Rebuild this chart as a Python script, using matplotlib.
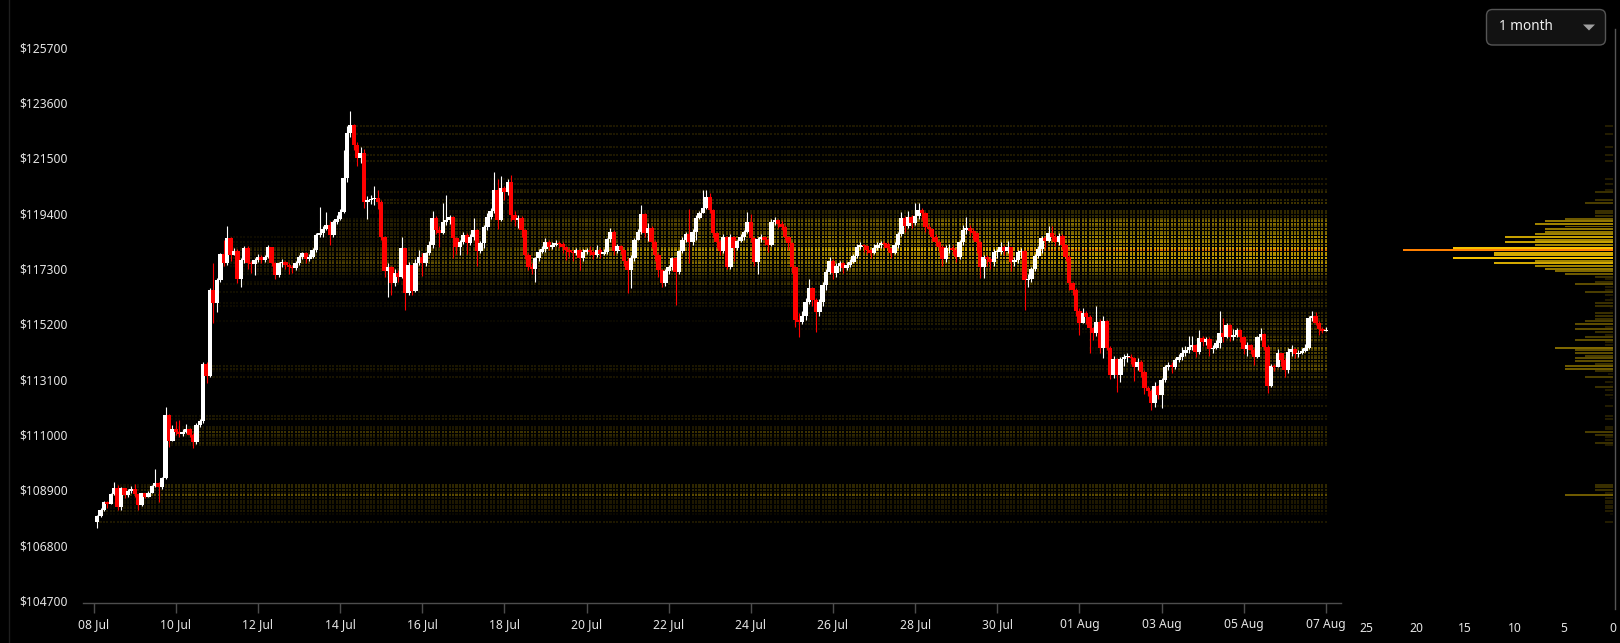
import numpy as np
import matplotlib
matplotlib.use("Agg")
import matplotlib.pyplot as plt
import matplotlib.dates as mdates
from matplotlib.collections import LineCollection
from matplotlib.colors import LinearSegmentedColormap
from matplotlib.patches import FancyBboxPatch, Polygon
from datetime import datetime

plt.rcParams['font.family'] = ['Noto Sans', 'DejaVu Sans']

# 2h candles, BTC 08 Jul 02:00 -> 07 Aug 00:00 (open of each = previous close)
first_open = 107700
closes = [
    107900, 108140, 108450, 108380, 108740, 108990, 108250, 108960, 108710, 108870,
    108930, 108740, 108320, 108770, 108650, 108800, 109050, 109160, 109000, 109340,
    111750, 110770, 111200, 111100, 111010, 111110, 111200, 110990, 110730, 111370,
    111500, 113700, 113230, 116490, 115980, 116870, 117860, 117500, 118450, 117820,
    117980, 116910, 117630, 118100, 117500, 117480, 117630, 117760, 117630, 117730,
    118130, 117500, 117060, 117500, 117560, 117450, 117380, 117320, 117500, 117750,
    117880, 117660, 117750, 118000, 118580, 118640, 118800, 118960, 118580, 119080,
    119200, 119460, 120730, 122440, 122750, 121990, 121490, 121680, 119840, 119900,
    119950, 119970, 119840, 118510, 117220, 117380, 116770, 117120, 117000, 118070,
    116360, 117440, 116450, 117530, 117730, 117500, 117880, 118200, 119210, 118770,
    118640, 119080, 119150, 119250, 118450, 118110, 118300, 118580, 118260, 118500,
    118770, 117980, 118260, 118890, 119270, 119500, 120290, 119150, 120350, 120200,
    120580, 119340, 119150, 119210, 118770, 117820, 117380, 117300, 117690, 117950,
    118030, 118320, 118130, 118200, 118290, 118250, 118130, 118010, 117950, 117900,
    118010, 117690, 117950, 118010, 117950, 117820, 118010, 117860, 117950, 118410,
    118700, 117980, 118160, 118000, 117600, 117250, 117700, 118390, 118700, 119370,
    118670, 118840, 118320, 117820, 117250, 116740, 117220, 117380, 117690, 117190,
    117970, 118390, 118600, 118320, 118700, 119210, 119400, 119600, 120030, 119530,
    118640, 118320, 117980, 118510, 117350, 118510, 118070, 118350, 118500, 118700,
    119080, 118450, 117570, 118410, 118510, 118400, 118200, 119080, 119150, 119000,
    118890, 118510, 118260, 117350, 115350, 115290, 115500, 116050, 116550, 116110,
    115670, 116050, 116680, 117190, 117590, 117150, 117400, 117500, 117310, 117450,
    117570, 117780, 118130, 118200, 118150, 118010, 117880, 118100, 118200, 118290,
    118250, 118070, 117910, 118200, 118610, 119210, 118920, 119270, 119020, 119300,
    119530, 119400, 118890, 118790, 118510, 118320, 118130, 117650, 118070, 118100,
    118010, 117730, 118300, 118770, 118830, 118740, 118640, 118300, 117350, 117730,
    117650, 117570, 117940, 117940, 118130, 117980, 118130, 117570, 117630, 117940,
    117970, 116870, 116900, 117270, 117780, 118030, 118450, 118360, 118640, 118510,
    118320, 118540, 118200, 117750, 116740, 116490, 115700, 115250, 115600, 115480,
    115040, 114870, 115290, 114300, 115300, 114300, 113260, 113860, 113260, 113860,
    113950, 113960, 113900, 113580, 113770, 113390, 112760, 112670, 112190, 112850,
    112510, 113070, 113580, 113640, 113580, 113830, 113930, 114110, 114200, 114310,
    114400, 114150, 114660, 114530, 114630, 114240, 114300, 114490, 114870, 114720,
    115160, 114720, 114800, 114970, 114720, 114240, 114400, 114200, 113930, 114690,
    114820, 114340, 112850, 113600, 113580, 114090, 113830, 113450, 114150, 114240,
    114060, 114090, 114190, 114300, 115420, 115500, 115240, 115000, 114950, 114970,
]
highs = [
    107950, 108200, 108500, 108480, 108780, 109200, 109100, 109000, 108980, 108920,
    109050, 109130, 108760, 108800, 108800, 108850, 109100, 109700, 109200, 109400,
    112060, 111800, 111350, 111500, 111550, 111200, 111400, 111250, 111050, 111450,
    111600, 113750, 113750, 116550, 117500, 116950, 117900, 118390, 118900, 118500,
    118100, 118050, 117700, 118150, 118150, 117600, 117700, 117850, 117800, 117800,
    118200, 118100, 117550, 117550, 117650, 117600, 117500, 117450, 117600, 117800,
    117950, 117950, 117850, 118100, 118650, 119650, 118900, 119440, 119100, 119150,
    119350, 119550, 121800, 122700, 123280, 122800, 122120, 121900, 121850, 120050,
    120100, 120440, 120290, 119900, 118550, 117500, 117400, 117300, 117250, 118490,
    118100, 117550, 117450, 117650, 118000, 117900, 117950, 118350, 119500, 119300,
    118900, 119800, 120100, 119350, 119300, 118500, 118400, 118700, 118650, 118600,
    119210, 118800, 118350, 118950, 119400, 119600, 120950, 120690, 120820, 120450,
    120700, 120850, 119500, 119350, 119300, 118800, 117900, 117500, 117750, 118050,
    118150, 118450, 118400, 118300, 118400, 118350, 118300, 118150, 118100, 118000,
    118100, 118050, 118050, 118100, 118150, 118000, 118200, 118100, 118050, 118450,
    118850, 118750, 118250, 118200, 118050, 117700, 117800, 118450, 118800, 119720,
    119400, 119050, 118900, 118400, 117900, 117300, 117300, 117450, 117750, 117750,
    118000, 118510, 118700, 119550, 118800, 119350, 119500, 120290, 120300, 120160,
    119550, 118700, 118400, 118600, 118550, 118600, 118550, 118400, 118600, 118750,
    119460, 119370, 118500, 118500, 118600, 118550, 118450, 119200, 119250, 119200,
    119100, 118950, 118550, 118300, 117400, 115600, 115700, 116200, 116900, 116600,
    116200, 116150, 116800, 117300, 117760, 117650, 117500, 117600, 117550, 117550,
    117650, 117850, 118250, 118300, 118250, 118200, 118050, 118250, 118300, 118350,
    118350, 118300, 118100, 118300, 118700, 119450, 119300, 119500, 119350, 119800,
    119800, 119600, 119450, 119000, 118850, 118600, 118400, 118200, 118200, 118250,
    118200, 118100, 118400, 118950, 119270, 118950, 118850, 118700, 118350, 117800,
    117800, 117750, 118050, 118050, 118300, 118200, 118350, 118100, 117750, 118000,
    118100, 118000, 117100, 117350, 117850, 118150, 118550, 118550, 118900, 118900,
    118600, 118650, 118600, 118250, 117800, 116800, 116550, 115800, 115800, 115700,
    115550, 115100, 115900, 115400, 115500, 115350, 114350, 114000, 113900, 113950,
    114050, 114100, 114050, 113950, 113900, 113850, 113450, 112850, 112750, 113000,
    112900, 113150, 113650, 113750, 113750, 113900, 114050, 114340, 114350, 114740,
    114750, 114450, 114970, 114750, 114700, 114700, 114400, 114600, 115690, 115440,
    115250, 115200, 115000, 115050, 115000, 114750, 114500, 114450, 114300, 114750,
    115040, 114850, 114400, 113700, 113700, 114250, 114100, 113900, 114300, 114400,
    114300, 114200, 114300, 114450, 115500, 115690, 115650, 115300, 115100, 115080,
]
lows = [
    107450, 107880, 108100, 108200, 108350, 108700, 108150, 108150, 108600, 108650,
    108800, 108650, 108150, 108300, 108600, 108650, 108780, 109000, 108450, 108950,
    109300, 110540, 110750, 111000, 110900, 110950, 111050, 110900, 110480, 110650,
    111300, 111450, 112970, 113200, 115230, 115650, 116800, 117400, 117450, 117600,
    117800, 116750, 116620, 117500, 117300, 117120, 117050, 117550, 117500, 117550,
    117700, 117400, 116900, 117000, 117350, 117300, 117100, 117150, 117250, 117450,
    117650, 117500, 117600, 117700, 117950, 118500, 118500, 118750, 118200, 118500,
    119000, 119150, 119400, 120600, 122300, 121800, 121200, 121300, 119620, 119200,
    119750, 119700, 119550, 118400, 117000, 116240, 116300, 116650, 116800, 116950,
    115730, 116300, 116300, 116400, 117450, 117020, 117400, 117800, 118100, 118600,
    118130, 118600, 118950, 119000, 117700, 117850, 117800, 118250, 117850, 118200,
    118400, 117410, 117900, 118100, 118750, 119200, 119400, 118800, 119100, 119900,
    120100, 119100, 118900, 118850, 118500, 117650, 117250, 117100, 116810, 117600,
    117900, 117950, 118000, 118050, 118150, 118100, 117900, 117630, 117750, 117600,
    117800, 117250, 117600, 117850, 117800, 117650, 117750, 117700, 117800, 117850,
    118300, 117800, 117900, 117850, 117400, 116390, 116550, 117600, 118400, 118600,
    118500, 118350, 118100, 117600, 117000, 116600, 116650, 117100, 117250, 115920,
    117100, 117900, 118300, 117500, 118200, 118400, 119200, 119400, 119550, 119400,
    118500, 118100, 117800, 117900, 117300, 117270, 117600, 118000, 118300, 118400,
    118650, 118300, 117400, 117100, 118300, 118200, 117950, 118150, 118950, 118850,
    118750, 118400, 118000, 117150, 115100, 114720, 115200, 115350, 115950, 115900,
    114910, 115500, 115900, 116500, 117100, 116900, 117000, 117200, 117150, 117250,
    117350, 117500, 117700, 118050, 117950, 117850, 117700, 117850, 118000, 118100,
    118100, 117950, 117700, 117850, 118100, 118550, 118700, 118850, 118850, 118950,
    119200, 119150, 118700, 118600, 118350, 118150, 117950, 117400, 117550, 117900,
    117850, 117550, 117650, 118200, 118600, 118550, 118400, 117900, 116930, 116950,
    117400, 117300, 117400, 117700, 117850, 117800, 117900, 117200, 117400, 117500,
    117700, 115730, 116600, 116800, 117200, 117700, 117900, 118100, 118300, 118350,
    118150, 118200, 118050, 117600, 116500, 116300, 115500, 114800, 115300, 115200,
    114100, 114600, 114750, 114100, 113900, 114200, 113100, 113150, 112630, 113000,
    113600, 113750, 113700, 113050, 113450, 113200, 112550, 112450, 111950, 112050,
    112350, 112000, 113000, 113450, 113350, 113500, 113750, 113850, 114000, 114100,
    114200, 113950, 114050, 114350, 114400, 114000, 114100, 114250, 114300, 114500,
    114650, 114550, 114600, 114700, 114500, 114050, 114000, 114050, 113640, 113900,
    114600, 114200, 112590, 112800, 113400, 113550, 113600, 113200, 113350, 114000,
    113900, 113950, 114050, 114150, 114250, 115300, 115150, 114780, 114850, 114920,
]

# volume profile, $100 bins from 107500 upward (0 = no bar)
level_start = 107500
level_step = 100
profile_vol = [
    0, 0, 0.8, 0, 0,           0.3, 0.8, 0.8, 0.8, 0.8,      # 107500-108400
    0.8, 0.8, 4.9, 0.8, 1.8,   1.8, 1.8, 0, 0, 0,            # 108500-109400
    0, 0, 0, 0, 0,             0, 0, 0, 0, 0,                # 109500-110400
    0, 0.8, 1.8, 0.8, 0.8,     1.8, 2.8, 0.8, 0.8, 0,        # 110500-111400
    0, 0.8, 0.8, 0, 0,         0, 0.8, 0, 0, 0.3,            # 111500-112400
    0.8, 0.3, 0.8, 1.8, 0.3,   0.8, 0.3, 2.8, 0.5, 1.8,      # 112500-113400
    4.9, 4.9, 1.8, 3.9, 3.9,   2.8, 3.9, 3.9, 5.9, 0.8,      # 113500-114400
    0.8, 3.9, 2.8, 0.8, 1.8,   3.9, 0.8, 3.9, 2.8, 1.8,      # 114500-115400
    1.8, 1.8, 0.3, 0.3, 1.8,   1.8, 0.8, 0.3, 0.8, 2.8,      # 115500-116400
    0.8, 0.8, 3.9, 1.8, 0.8,   1.8, 4.9, 5.9, 6.9, 7.9,      # 116500-117400
    12.1, 7.9, 16.2, 12.1, 12.1,  21.3, 16.2, 7.9, 11.0, 7.9,  # 117500-118400
    11.0, 7.9, 6.9, 6.9, 4.9,  7.9, 6.9, 4.9, 1.8, 1.8,      # 118500-119400
    1.8, 0, 0, 2.8, 1.8,       0, 0, 1.8, 0.8, 0,            # 119500-120400
    0.8, 0, 0.8, 0, 0,         0, 0, 0, 0, 0.8,              # 120500-121400
    0, 0.8, 0, 0, 0.8,         0, 0, 0, 0, 0.8,              # 121500-122400
    0, 0, 0.8, 0, 0,           0, 0, 0,                      # 122500-123200
]

date_ticks = ['2025-07-08', '2025-07-10', '2025-07-12', '2025-07-14', '2025-07-16',
              '2025-07-18', '2025-07-20', '2025-07-22', '2025-07-24', '2025-07-26',
              '2025-07-28', '2025-07-30', '2025-08-01', '2025-08-03', '2025-08-05',
              '2025-08-07']
price_ticks = [104700, 106800, 108900, 111000, 113100, 115200, 117300, 119400,
               121500, 123600, 125700]
vol_ticks = [25, 20, 15, 10, 5, 0]

W, H = 1620, 643
txt = '#e6e6e6'
grey = '#4d4d4d'

heat = LinearSegmentedColormap.from_list('heat', [
    (0.0, '#000000'), (0.03, '#201a00'), (0.08, '#382e00'), (0.2, '#645200'),
    (0.35, '#9a7e00'), (0.55, '#cfa600'), (0.75, '#f5c000'), (0.9, '#ffc800'),
    (0.96, '#ffa000'), (1.0, '#ff8000')])

# ---- derived arrays
t0 = mdates.date2num(datetime(2025, 7, 8))
n = len(closes)
x = t0 + (2 + 2 * np.arange(n)) / 24.0
c = np.array(closes, float)
o = np.r_[first_open, c[:-1]]
hi = np.maximum(np.array(highs, float), np.maximum(o, c))
lo = np.minimum(np.array(lows, float), np.minimum(o, c))
up = c >= o
col = np.where(up, '#ffffff', '#ff0000')

vol = np.array(profile_vol, float)
levels = level_start + level_step * np.arange(len(vol))
vmax = vol.max()

fig = plt.figure(figsize=(W / 100, H / 100), dpi=100, facecolor='black')

# ---- main price axes
ax = fig.add_axes([83 / W, 1 - 602.7 / H, (1341 - 83) / W, (602.7 - 10) / H])
ax.set_facecolor('black')
ax.set_xlim(t0 - 0.2605, t0 + 30.37)
ax.set_ylim(104622.6, 127115.5)

# cumulative volume heatmap: each column shows the profile built so far
cover = (levels[None, :] >= lo[:, None]) & (levels[None, :] <= hi[:, None])
cum = np.cumsum(cover, axis=0)
tot = cum[-1]
frac = cum / np.maximum(tot, 1)
inten = frac * vol[None, :] / vmax
cw = 2.1 / 41.07
ii, bb = np.nonzero(inten > 0.012)
segs = np.stack([np.c_[x[ii] - cw / 2, levels[bb]], np.c_[x[ii] + cw / 2, levels[bb]]], axis=1)
lc = LineCollection(segs, colors=heat(inten[ii, bb]), linewidths=1.2, capstyle='butt', zorder=1)
ax.add_collection(lc)

# candles
bw = 4.5 / 41.07
ax.vlines(x, lo, hi, colors=col, linewidth=0.8, zorder=2)
body_h = np.maximum(np.abs(c - o), 30)
ax.bar(x, body_h, bottom=np.minimum(o, c), width=bw, color=col, linewidth=0, zorder=3)

for s in ['top', 'right', 'left']:
    ax.spines[s].set_visible(False)
ax.spines['bottom'].set_color(grey)
ax.spines['bottom'].set_linewidth(1)
ax.set_yticks(price_ticks)
ax.set_yticklabels(['$%d' % p for p in price_ticks])
ax.tick_params(axis='y', length=0, pad=11, labelsize=8.7, labelcolor=txt)
ax.set_xticks([mdates.datestr2num(d) for d in date_ticks])
ax.xaxis.set_major_formatter(mdates.DateFormatter('%d %b'))
ax.tick_params(axis='x', length=7, width=1, color=grey, pad=4, labelsize=8.7, labelcolor=txt)

# ---- volume profile axes
axp = fig.add_axes([1341 / W, 1 - 609 / H, 274 / W, 580 / H])
axp.set_facecolor('none')
axp.set_xlim(27.6, -0.2)
axp.set_ylim(104384.6, 126394.4)
keep = vol > 0
axp.barh(levels[keep], vol[keep], height=75, left=0,
         color=heat(vol[keep] / vmax), linewidth=0)
for s in ['top', 'left', 'bottom']:
    axp.spines[s].set_visible(False)
axp.spines['right'].set_color('#555555')
axp.spines['right'].set_linewidth(1)
axp.set_yticks([])
axp.set_xticks(vol_ticks)
axp.set_xticklabels([str(v) for v in vol_ticks])
axp.tick_params(axis='x', length=0, pad=9, labelsize=8.7, labelcolor=txt)

# ---- overlay in pixel units (dropdown, left rule)
ov = fig.add_axes([0, 0, 1, 1], zorder=5)
ov.set_xlim(0, W)
ov.set_ylim(H, 0)
ov.axis('off')
ov.patch.set_alpha(0)
ov.plot([9.3, 9.3], [0, H], color='#1e1e1e', lw=1)
ov.add_patch(FancyBboxPatch((1486.5, 9.5), 119, 35.5, boxstyle='round,pad=0,rounding_size=6',
                            fc='#121212', ec='#555555', lw=1))
ov.text(1499, 27, '1 month', color='#f0f0f0', fontsize=9.8, va='center', ha='left')
ov.add_patch(Polygon([(1583, 24.5), (1595, 24.5), (1589, 30.5)], closed=True, fc='#a0a0a0', ec='none'))

fig.savefig('out.png', dpi=100, facecolor='black')
